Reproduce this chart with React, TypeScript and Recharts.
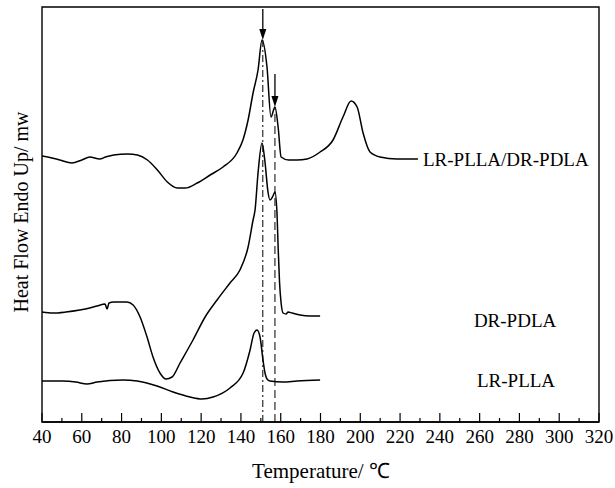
import React from 'react'
import { LineChart, Line, XAxis, YAxis, ReferenceLine, ReferenceArea, ReferenceDot } from 'recharts'

// DSC-Kurven, Werte (Heat Flow in willkürlichen Einheiten)
const blendTemp = [40, 45, 49, 55, 60, 64, 69, 72, 76, 83, 88, 93, 98, 103, 108, 112, 118, 124.5, 131, 138, 141, 143.6, 146.1, 148.6, 150.6, 153.1, 155.1, 157.1, 158.7, 160.2, 164, 168.2, 173.2, 179.8, 186.3, 191.3, 195.4, 198.4, 201.4, 204.9, 209.9, 218.5, 229]
const blendFlow = [266, 264, 262, 259, 262, 265, 263, 265, 267, 268, 267, 262, 252, 240, 234, 234, 239, 247, 255, 269, 282, 302, 329, 352, 382, 355, 305, 315, 295, 265, 262, 262, 263, 270, 282, 305, 321, 315, 289, 270, 265, 263, 263]

const pdlaTemp = [40, 45.5, 52, 59, 64, 67.7, 71.7, 72.7, 73.7, 76, 82.7, 85.8, 89.3, 92.8, 95.8, 99.3, 102.3, 105.4, 109.4, 115.9, 122, 128, 134.5, 139.5, 143.6, 146.1, 147.1, 148.6, 150.6, 152.1, 153.6, 154.6, 156.1, 157.1, 158.1, 158.7, 159.4, 160.2, 161.2, 162.7, 163.7, 165.7, 169.7, 174.7, 179.8]
const pdlaFlow = [110, 109, 110, 112, 114, 116, 118, 113, 119, 120, 120, 117, 105, 85, 65, 49, 43, 45, 59, 82, 105, 122, 139, 152, 175, 202, 212, 249, 279, 260, 230, 222, 226, 230, 210, 175, 140, 119, 109, 108, 110, 109, 107, 106, 106]

const pllaTemp = [40, 50.6, 57, 62.6, 67.7, 80.7, 87.8, 97.8, 105.9, 114.4, 120.4, 126, 134.5, 141.1, 144.6, 146.6, 148.1, 149.6, 151.1, 152.1, 153.1, 154.6, 161.2, 168.2, 179.8]
const pllaFlow = [41, 41, 40, 38, 40, 42, 41, 36, 30, 25, 23, 25, 34, 49, 72, 89, 92, 85, 62, 49, 43, 41, 40, 41, 42]

const xTicks = [40, 50, 60, 70, 80, 90, 100, 110, 120, 130, 140, 150, 160, 170, 180, 190, 200, 210, 220, 230, 240, 250, 260, 270, 280, 290, 300, 310, 320]

const peakTemps = [151, 157.1]
const peakFlows = [382, 315]

const seriesNames = ['LR-PLLA/DR-PDLA', 'DR-PDLA', 'LR-PLLA']
const labelPos = [
  { t: 229, v: 263, position: 'right' },
  { t: 277.8, v: 102, position: 'center' },
  { t: 278.3, v: 42, position: 'center' },
]

const toRows = (ts: number[], vs: number[]) => ts.map((t, i) => ({ t, v: vs[i] }))
const blend = toRows(blendTemp, blendFlow)
const pdla = toRows(pdlaTemp, pdlaFlow)
const plla = toRows(pllaTemp, pllaFlow)

const FONT = '"Liberation Serif", "Times New Roman", serif'

function AxisTick({ x, y, payload }: any) {
  const major = payload.value % 20 === 0
  return (
    <g>
      <line x1={x} x2={x} y1={y} y2={y - (major ? 9 : 4)} stroke="#000" strokeWidth={1.2} />
      {major && (
        <text x={x} y={y + 21} textAnchor="middle" fontSize={19} fontFamily={FONT} fill="#000">
          {payload.value}
        </text>
      )}
    </g>
  )
}

function Arrow(p: any) {
  const top = Math.min(p.y1, p.y2)
  const tip = Math.max(p.y1, p.y2)
  return (
    <g>
      <line x1={p.x1} x2={p.x1} y1={top} y2={tip - 8} stroke="#000" strokeWidth={1.3} />
      <polygon points={`${p.x1 - 3.5},${tip - 11} ${p.x1 + 3.5},${tip - 11} ${p.x1},${tip}`} fill="#000" />
    </g>
  )
}

export default function App() {
  return (
    <div style={{ position: 'absolute', left: 0, top: 0, width: 615, height: 488, background: '#fff' }}>
      <LineChart width={615} height={488} margin={{ top: 7, right: 16, bottom: 0, left: 42 }}>
        <XAxis
          dataKey="t"
          type="number"
          domain={[40, 320]}
          ticks={xTicks}
          interval={0}
          height={66}
          tickSize={0}
          tickMargin={0}
          tickLine={false}
          tick={AxisTick}
          axisLine={{ stroke: '#000', strokeWidth: 1.4 }}
          allowDataOverflow
        />
        <YAxis hide type="number" domain={[0, 415]} allowDataOverflow />
        <ReferenceArea x1={40} x2={320} y1={0} y2={415} fill="none" stroke="#000" strokeWidth={1.4} fillOpacity={0} />

        <ReferenceLine segment={[{ x: peakTemps[0], y: 0 }, { x: peakTemps[0], y: peakFlows[0] }]} stroke="#000" strokeWidth={1} strokeDasharray="7 3 2 3" />
        <ReferenceLine segment={[{ x: peakTemps[1], y: 0 }, { x: peakTemps[1], y: peakFlows[1] }]} stroke="#000" strokeWidth={1} strokeDasharray="8 4" />

        <Line data={blend} dataKey="v" type="monotone" dot={false} stroke="#000" strokeWidth={1.5} isAnimationActive={false} />
        <Line data={pdla} dataKey="v" type="monotone" dot={false} stroke="#000" strokeWidth={1.5} isAnimationActive={false} />
        <Line data={plla} dataKey="v" type="monotone" dot={false} stroke="#000" strokeWidth={1.5} isAnimationActive={false} />

        <ReferenceLine segment={[{ x: peakTemps[0], y: 413 }, { x: peakTemps[0], y: peakFlows[0] }]} shape={Arrow} />
        <ReferenceLine segment={[{ x: peakTemps[1], y: peakFlows[1] + 33 }, { x: peakTemps[1], y: peakFlows[1] }]} shape={Arrow} />

        {seriesNames.map((name, i) => (
          <ReferenceDot
            key={name}
            x={labelPos[i].t}
            y={labelPos[i].v}
            r={0}
            stroke="none"
            fill="none"
            label={{ value: name, position: labelPos[i].position as any, offset: 5, fontSize: 19, fontFamily: FONT, fill: '#000' }}
          />
        ))}

        <text x={28} y={212} transform="rotate(-90 28 212)" textAnchor="middle" fontSize={20} fontFamily={FONT} fill="#000">
          Heat Flow Endo Up/ mw
        </text>
        <text x={321} y={478} textAnchor="middle" fontSize={21} fontFamily={FONT} fill="#000">
          Temperature/ ℃
        </text>
      </LineChart>
    </div>
  )
}
